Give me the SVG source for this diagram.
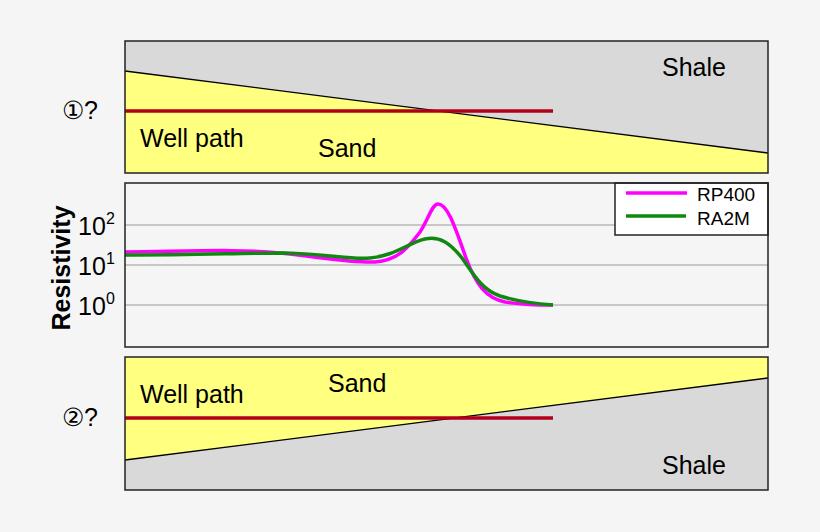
<svg xmlns="http://www.w3.org/2000/svg" width="820" height="532" viewBox="0 0 820 532">
<style>
text{font-family:"Liberation Sans",Arial,sans-serif;fill:#000}
.frame{fill:none;stroke:#222;stroke-width:1.5}
.grid{stroke:#999;stroke-width:1.2}
.well{stroke:#b00018;stroke-width:3.5}
.lbl{font-size:25px}
.ax{font-size:25px}
.sup{font-size:16px}
.num{font-size:25px}
</style>
<rect width="820" height="532" fill="#f5f5f5"/>
<g id="panel1">
<rect x="125" y="41" width="643" height="132" fill="#d9d9d9"/>
<polygon points="125,71 768,153 768,173 125,173" fill="#ffff80"/>
<line x1="125" y1="71" x2="768" y2="153" stroke="#000" stroke-width="1.3"/>
<line class="well" x1="125" y1="111" x2="553" y2="111"/>
<rect class="frame" x="125" y="41" width="643" height="132"/>
<text class="lbl" x="662" y="76">Shale</text>
<text class="lbl" x="140" y="147">Well path</text>
<text class="lbl" x="318" y="157">Sand</text>
<text class="num" x="62" y="119">①?</text>
</g>
<g id="panel2">
<rect x="125" y="183" width="643" height="164" fill="#f5f5f5"/>
<line class="grid" x1="125" y1="225" x2="768" y2="225"/>
<line class="grid" x1="125" y1="265" x2="768" y2="265"/>
<line class="grid" x1="125" y1="305" x2="768" y2="305"/>
<path d="M125,252 C200,251 240,249 280,253 C320,257 350,263 375,262 C400,260 410,245 420,232 C428,220 432,204 438,204 C448,204 456,230 466,258 C476,285 486,298 505,302 C525,305 540,305 553,305" fill="none" stroke="#ff00ff" stroke-width="3.5"/>
<path d="M125,255 C200,255 240,253 285,253 C330,254 350,260 370,258 C395,256 410,242 425,239 C440,236 450,243 462,258 C474,275 482,290 500,296 C520,302 540,304 553,305" fill="none" stroke="#118811" stroke-width="3.5"/>
<rect x="615" y="183" width="153" height="52" fill="#fff" stroke="#222" stroke-width="1.5"/>
<line x1="626" y1="193" x2="687" y2="193" stroke="#ff00ff" stroke-width="3.5"/>
<line x1="626" y1="216" x2="686" y2="216" stroke="#118811" stroke-width="3.5"/>
<text x="697" y="201" font-size="19">RP400</text>
<text x="697" y="225" font-size="19">RA2M</text>
<rect class="frame" x="125" y="183" width="643" height="164"/>
<text class="ax" x="78" y="235">10</text><text class="sup" x="106" y="224">2</text>
<text class="ax" x="78" y="275">10</text><text class="sup" x="106" y="264">1</text>
<text class="ax" x="78" y="315">10</text><text class="sup" x="106" y="304">0</text>
<text transform="translate(70,268) rotate(-90)" text-anchor="middle" font-size="25" font-weight="bold">Resistivity</text>
</g>
<g id="panel3">
<rect x="125" y="357" width="643" height="133" fill="#d9d9d9"/>
<polygon points="125,357 768,357 768,378 125,460" fill="#ffff80"/>
<line x1="125" y1="460" x2="768" y2="378" stroke="#000" stroke-width="1.3"/>
<line class="well" x1="125" y1="418" x2="553" y2="418"/>
<rect class="frame" x="125" y="357" width="643" height="133"/>
<text class="lbl" x="140" y="403">Well path</text>
<text class="lbl" x="328" y="392">Sand</text>
<text class="lbl" x="662" y="474">Shale</text>
<text class="num" x="62" y="426">②?</text>
</g>
</svg>
